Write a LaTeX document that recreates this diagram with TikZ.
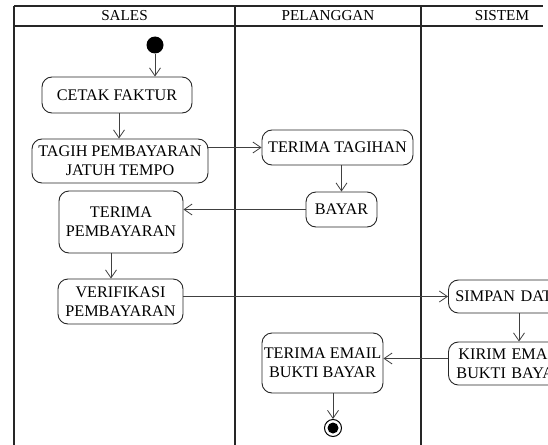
\documentclass[tikz,border=0pt]{standalone}
\usepackage{fontspec}
\setmainfont{Liberation Serif}
\usetikzlibrary{arrows.meta}
\begin{document}
\begin{tikzpicture}[x=1pt,y=-1pt,
  act/.style={draw=black!85, line width=0.9pt, rounded corners=10pt, align=center,
    inner sep=0pt, font=\fontsize{16.2}{18.7}\selectfont},
  arr/.style={draw=black!75, line width=0.8pt, -{Straight Barb[length=8pt,width=11pt,line width=0.8pt]}},
  frame/.style={line width=1.8pt, draw=black!85},
  hdr/.style={font=\fontsize{15.2}{18}\selectfont, inner sep=0pt}]
\useasboundingbox (0,0) rectangle (548,444);
\clip (0,0) rectangle (548,444);
% frame
\draw[frame] (14,5.7) -- (543,5.7);
\draw[frame] (14,26) -- (543,26);
\draw[frame] (14,5.7) -- (14,446);
\draw[frame] (235,5.7) -- (235,446);
\draw[frame] (421,5.7) -- (421,446);
\node[hdr] (hsales) at (124.5,16) {SALES};
\node[hdr] (hpel) at (328,16) {PELANGGAN};
\node[hdr] (hsis) at (502,16) {SISTEM};
% nodes
\node[circle, fill=black, minimum size=17pt, inner sep=0pt] (start) at (155,45) {};
\node[act, minimum width=150pt, minimum height=36pt] (cetak) at (117,95) {CETAK FAKTUR};
\node[act, minimum width=176pt, minimum height=44pt] (tagih) at (120,161) {TAGIH PEMBAYARAN\\JATUH TEMPO};
\node[act, minimum width=151pt, minimum height=35pt] (terimat) at (337.5,147.5) {TERIMA TAGIHAN};
\node[act, minimum width=71pt, minimum height=35pt] (bayar) at (341.5,209.5) {BAYAR};
\node[act, minimum width=124pt, minimum height=62pt] (terimap) at (121,222) {TERIMA\\PEMBAYARAN};
\node[act, minimum width=125pt, minimum height=45pt] (verif) at (120.5,301.5) {VERIFIKASI\\PEMBAYARAN};
\node[act, anchor=west, inner xsep=7pt, minimum width=142pt, minimum height=33pt, text width=128pt, align=left] (simpan) at (448,296.5) {SIMPAN DATA};
\node[act, anchor=west, inner xsep=8pt, minimum width=142pt, minimum height=43pt, text width=126pt, align=left] (kirim) at (448,363.5) {\hspace*{2pt}KIRIM EMAIL\\BUKTI BAYAR};
\node[act, minimum width=121pt, minimum height=60pt] (terimae) at (322.5,363) {TERIMA EMAIL\\BUKTI BAYAR};
\node[circle, draw=black, line width=1pt, minimum size=17pt, inner sep=0pt] (end) at (333,428) {};
\fill[black] (end.center) circle[radius=5.5pt];
% connectors
\draw[arr] (start) -- (start |- cetak.north);
\draw[arr] ([xshift=2pt]cetak.south) -- ([xshift=2pt]cetak.south |- tagih.north);
\draw[arr] (tagih.east |- terimat.west) -- (terimat.west);
\draw[arr] (terimat.south -| bayar.north) -- (bayar.north);
\draw[arr] (bayar.west) -- (bayar.west -| terimap.east);
\draw[arr] ([xshift=-10pt]terimap.south) -- ([xshift=-10pt]terimap.south |- verif.north);
\draw[arr] (verif.east |- simpan.west) -- (simpan.west);
\draw[arr] ([xshift=71pt]simpan.south west) -- ([xshift=71pt]kirim.north west);
\draw[arr] ([yshift=5pt]kirim.west) -- ([yshift=5pt]kirim.west -| terimae.east);
\draw[arr] (end |- terimae.south) -- (end.north);
\end{tikzpicture}
\end{document}
